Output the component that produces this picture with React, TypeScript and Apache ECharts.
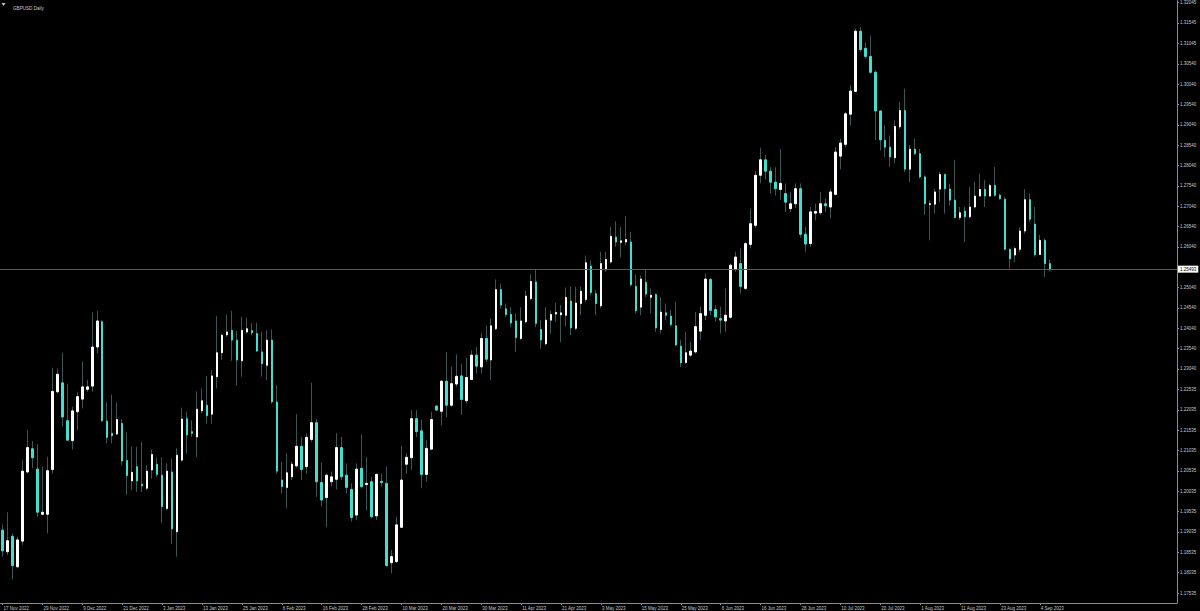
import React, { useEffect, useRef } from 'react';
import * as echarts from 'echarts';

const symbolTitle = 'GBPUSD,Daily';
const startDate = '2022-11-17';
const skippedDays = ['2022-12-26'];
const sundayBars = ['2023-03-12', '2023-03-19'];
const priceLabels = ['1.32045','1.31545','1.31045','1.30540','1.30040','1.29540','1.29040','1.28540','1.28040','1.27540','1.27040','1.26540','1.26040','1.25040','1.24540','1.24040','1.23540','1.23040','1.22535','1.22035','1.21535','1.21035','1.20535','1.20035','1.19535','1.19035','1.18535','1.18035','1.17535'];

const opens = [1.1908,1.1855,1.1893,1.1818,1.1881,1.2051,1.2108,1.2058,1.1947,1.1947,1.2057,1.2248,1.2270,1.2177,1.2128,1.2199,1.2230,1.2254,1.2262,1.2358,1.2420,1.2176,1.2146,1.2144,1.2170,1.2079,1.2029,1.2064,1.2021,1.2011,1.2056,1.2070,1.2043,1.1961,1.2051,1.1904,1.2080,1.2182,1.2150,1.2137,1.2201,1.2215,1.2193,1.2285,1.2344,1.2388,1.2399,1.2375,1.2324,1.2395,1.2398,1.2391,1.2346,1.2313,1.2375,1.2223,1.2031,1.2013,1.2039,1.2066,1.2114,1.2064,1.2131,1.2172,1.2025,1.1988,1.2027,1.2033,1.2111,1.2043,1.2008,1.1945,1.2060,1.2020,1.2027,1.1943,1.2028,1.2023,1.1828,1.1831,1.1915,1.2070,1.2086,1.2182,1.2152,1.2045,1.2107,1.2213,1.2200,1.2274,1.2215,1.2267,1.2287,1.2226,1.2278,1.2338,1.2309,1.2379,1.2326,1.2403,1.2499,1.2452,1.2438,1.2422,1.2379,1.2420,1.2477,1.2518,1.2401,1.2366,1.2424,1.2439,1.2437,1.2436,1.2471,1.2404,1.2465,1.2475,1.2557,1.2489,1.2459,1.2548,1.2567,1.2628,1.2615,1.2616,1.2616,1.2507,1.2456,1.2517,1.2480,1.2487,1.2401,1.2442,1.2434,1.2410,1.2360,1.2320,1.2338,1.2346,1.2397,1.2436,1.2524,1.2450,1.2428,1.2422,1.2431,1.2549,1.2563,1.2502,1.2610,1.2657,1.2780,1.2818,1.2790,1.2763,1.2745,1.2735,1.2698,1.2710,1.2747,1.2635,1.2612,1.2687,1.2688,1.2710,1.2702,1.2733,1.2827,1.2856,1.2930,1.2986,1.3134,1.3092,1.3072,1.3033,1.2938,1.2866,1.2849,1.2823,1.2899,1.2939,1.2795,1.2844,1.2833,1.2776,1.2708,1.2709,1.2746,1.2782,1.2746,1.2719,1.2676,1.2692,1.2678,1.2702,1.2729,1.2745,1.2729,1.2755,1.2731,1.2721,1.2598,1.2584,1.2598,1.2643,1.2720,1.2660,1.2585,1.2620,1.2563];
const closes = [1.1857,1.1882,1.1821,1.1884,1.2053,1.2111,1.2086,1.1952,1.1952,1.2054,1.2249,1.2291,1.2186,1.2129,1.2201,1.2236,1.2260,1.2260,1.2358,1.2422,1.2177,1.2136,1.2140,1.2180,1.2078,1.2042,1.2050,1.2029,1.2017,1.2053,1.2094,1.2045,1.1966,1.2053,1.1911,1.2092,1.2181,1.2142,1.2146,1.2205,1.2226,1.2189,1.2287,1.2344,1.2387,1.2395,1.2375,1.2326,1.2399,1.2403,1.2393,1.2348,1.2317,1.2375,1.2223,1.2053,1.2015,1.2049,1.2070,1.2114,1.2057,1.2136,1.2172,1.2027,1.1982,1.2043,1.2039,1.2111,1.2039,1.2013,1.1939,1.2058,1.2015,1.2023,1.1941,1.2045,1.2025,1.1821,1.1843,1.1921,1.2031,1.2087,1.2182,1.2150,1.2045,1.2109,1.2180,1.2203,1.2274,1.2215,1.2268,1.2286,1.2229,1.2283,1.2338,1.2311,1.2379,1.2328,1.2410,1.2499,1.2461,1.2438,1.2417,1.2381,1.2422,1.2483,1.2519,1.2416,1.2375,1.2424,1.2438,1.2443,1.2442,1.2480,1.2405,1.2466,1.2495,1.2565,1.2492,1.2465,1.2563,1.2573,1.2630,1.2616,1.2619,1.2622,1.2511,1.2447,1.2525,1.2488,1.2485,1.2405,1.2444,1.2436,1.2413,1.2363,1.2319,1.2344,1.2348,1.2408,1.2440,1.2525,1.2448,1.2432,1.2424,1.2436,1.2559,1.2579,1.2507,1.2612,1.2661,1.2780,1.2818,1.2790,1.2763,1.2747,1.2760,1.2714,1.2710,1.2747,1.2635,1.2611,1.2690,1.2691,1.2710,1.2705,1.2739,1.2837,1.2859,1.2931,1.2987,1.3134,1.3089,1.3072,1.3033,1.2938,1.2867,1.2849,1.2825,1.2900,1.2939,1.2795,1.2844,1.2833,1.2776,1.2710,1.2710,1.2739,1.2782,1.2747,1.2719,1.2676,1.2688,1.2678,1.2702,1.2729,1.2745,1.2729,1.2755,1.2731,1.2723,1.2598,1.2575,1.2600,1.2643,1.2720,1.2672,1.2585,1.2620,1.2563,1.25493];
const lows = [1.1843,1.1847,1.1787,1.1814,1.1872,1.2047,1.2060,1.1941,1.1945,1.1900,1.2047,1.2244,1.2162,1.2128,1.2106,1.2154,1.2207,1.2248,1.2248,1.2342,1.2174,1.2121,1.2121,1.2142,1.2068,1.1994,1.2006,1.2002,1.2002,1.2006,1.2034,1.2039,1.1925,1.1957,1.1874,1.1843,1.2076,1.2097,1.2137,1.2088,1.2195,1.2170,1.2170,1.2256,1.2326,1.2383,1.2324,1.2264,1.2285,1.2391,1.2387,1.2346,1.2285,1.2277,1.2219,1.2047,1.1998,1.1962,1.2031,1.2062,1.2031,1.2047,1.2125,1.1990,1.1966,1.1915,1.2015,1.2008,1.2031,1.1998,1.1929,1.1933,1.2011,1.1957,1.1937,1.1933,1.2015,1.1818,1.1802,1.1827,1.1913,1.2047,1.2056,1.2137,1.2011,1.2027,1.2105,1.2201,1.2166,1.2186,1.2211,1.2260,1.2191,1.2219,1.2277,1.2293,1.2293,1.2321,1.2277,1.2399,1.2452,1.2432,1.2407,1.2346,1.2375,1.2416,1.2473,1.2407,1.2354,1.2362,1.2391,1.2420,1.2370,1.2408,1.2387,1.2399,1.2436,1.2469,1.2485,1.2436,1.2453,1.2543,1.2563,1.2604,1.2579,1.2608,1.2507,1.2440,1.2436,1.2481,1.2440,1.2395,1.2391,1.2424,1.2408,1.2360,1.2309,1.2316,1.2334,1.2342,1.2375,1.2424,1.2436,1.2420,1.2391,1.2395,1.2428,1.2543,1.2489,1.2498,1.2600,1.2650,1.2760,1.2770,1.2735,1.2730,1.2720,1.2690,1.2690,1.2700,1.2627,1.2592,1.2604,1.2669,1.2682,1.2690,1.2674,1.2731,1.2795,1.2849,1.2903,1.2984,1.3083,1.3066,1.3029,1.2866,1.2841,1.2825,1.2800,1.2809,1.2894,1.2788,1.2763,1.2829,1.2772,1.2682,1.2620,1.2686,1.2714,1.2686,1.2706,1.2674,1.2670,1.2616,1.2674,1.2698,1.2727,1.2702,1.2727,1.2727,1.2719,1.2596,1.2551,1.2567,1.2592,1.2637,1.2665,1.2580,1.2584,1.2530,1.2543];
const highs = [1.1922,1.1952,1.1900,1.1892,1.2080,1.2154,1.2127,1.2119,1.2064,1.2088,1.2307,1.2305,1.2344,1.2268,1.2211,1.2248,1.2323,1.2277,1.2443,1.2446,1.2424,1.2222,1.2241,1.2222,1.2181,1.2148,1.2113,1.2113,1.2125,1.2068,1.2106,1.2087,1.2087,1.2072,1.2084,1.2109,1.2209,1.2199,1.2178,1.2249,1.2256,1.2287,1.2301,1.2434,1.2391,1.2438,1.2447,1.2398,1.2432,1.2430,1.2416,1.2418,1.2395,1.2399,1.2401,1.2264,1.2076,1.2097,1.2076,1.2193,1.2137,1.2146,1.2270,1.2182,1.2074,1.2047,1.2052,1.2147,1.2137,1.2072,1.2023,1.2072,1.2143,1.2088,1.2039,1.2047,1.2047,1.2064,1.1859,1.1941,1.2115,1.2097,1.2203,1.2203,1.2180,1.2129,1.2199,1.2215,1.2277,1.2346,1.2309,1.2340,1.2317,1.2332,1.2350,1.2358,1.2393,1.2411,1.2428,1.2524,1.2514,1.2465,1.2456,1.2440,1.2456,1.2496,1.2537,1.2547,1.2424,1.2456,1.2448,1.2466,1.2461,1.2504,1.2507,1.2506,1.2506,1.2583,1.2571,1.2498,1.2592,1.2592,1.2653,1.2667,1.2653,1.2679,1.2641,1.2536,1.2534,1.2547,1.2502,1.2490,1.2481,1.2465,1.2449,1.2469,1.2375,1.2395,1.2371,1.2444,1.2457,1.2538,1.2527,1.2461,1.2457,1.2502,1.2563,1.2592,1.2600,1.2616,1.2698,1.2790,1.2848,1.2830,1.2800,1.2800,1.2845,1.2760,1.2740,1.2760,1.2760,1.2653,1.2702,1.2710,1.2739,1.2723,1.2747,1.2849,1.2870,1.2935,1.3001,1.3140,1.3144,1.3107,1.3123,1.3038,1.2939,1.2903,1.2878,1.2915,1.2960,1.2993,1.2854,1.2870,1.2845,1.2780,1.2718,1.2747,1.2788,1.2784,1.2759,1.2818,1.2702,1.2702,1.2751,1.2764,1.2784,1.2768,1.2759,1.2800,1.2735,1.2727,1.2600,1.2604,1.2653,1.2746,1.2735,1.2702,1.2633,1.2624,1.2573];

const TOTAL_SLOTS = 236;
const LABEL_EVERY = 8;
const MONTHS = ['Jan','Feb','Mar','Apr','May','Jun','Jul','Aug','Sep','Oct','Nov','Dec'];

function buildDates(count: number): string[] {
  const out: string[] = [];
  const [y, m, d] = startDate.split('-').map(Number);
  let t = Date.UTC(y, m - 1, d);
  while (out.length < count) {
    const dt = new Date(t);
    const iso = dt.toISOString().slice(0, 10);
    const dow = dt.getUTCDay();
    const weekday = dow >= 1 && dow <= 5;
    if ((weekday && !skippedDays.includes(iso)) || sundayBars.includes(iso)) {
      out.push(`${dt.getUTCDate()} ${MONTHS[dt.getUTCMonth()]} ${dt.getUTCFullYear()}`);
    }
    t += 86400000;
  }
  return out;
}

export default function App() {
  const ref = useRef<HTMLDivElement>(null);
  useEffect(() => {
    if (!ref.current) return;
    const chart = echarts.init(ref.current, null, { renderer: 'svg' });
    const n = opens.length;
    const categories = buildDates(TOTAL_SLOTS);
    const full = opens.map((o, i) => [o, closes[i], lows[i], highs[i]]);
    const bodies = opens.map((o, i) => [o, closes[i], Math.min(o, closes[i]), Math.max(o, closes[i])]);
    const lastPrice = closes[n - 1];
    const tickVals = priceLabels.map(Number);
    const showIdx = (i: number) => i % LABEL_EVERY === 0 && i < n;
    const axisGrey = '#8a8a8a';
    const textGrey = '#c8c8c8';
    const wick = '#3b5656';
    const cyan = '#3fe0d0';
    chart.setOption({
      animation: false,
      backgroundColor: '#000000',
      title: {
        text: symbolTitle, left: 8, top: 1,
        textStyle: { color: textGrey, fontSize: 4.6, fontWeight: 'normal', fontFamily: 'Liberation Sans' },
      },
      graphic: [{ type: 'polygon', shape: { points: [[1.5, 3], [5.5, 3], [3.5, 6]] }, style: { fill: textGrey } }],
      grid: { left: -2.5, right: 23, top: 0, bottom: 8 },
      xAxis: {
        type: 'category', data: categories, boundaryGap: true,
        axisLine: { show: true, lineStyle: { color: axisGrey, width: 1 } },
        axisTick: { show: true, interval: (i: number) => showIdx(i), alignWithLabel: true, length: 2, lineStyle: { color: axisGrey } },
        axisLabel: { interval: (i: number) => showIdx(i), color: textGrey, fontSize: 4.5, fontFamily: 'Liberation Sans', align: 'left', margin: 2.5, padding: [0, 0, 0, 1] },
        splitLine: { show: false },
      },
      yAxis: {
        type: 'value', position: 'right', min: 1.17290, max: 1.32094,
        axisLine: { show: true, lineStyle: { color: axisGrey, width: 1 } },
        axisTick: { show: true, customValues: tickVals, length: 2, lineStyle: { color: axisGrey } },
        axisLabel: { customValues: tickVals, formatter: (v: number) => v.toFixed(5), color: textGrey, fontSize: 4.5, fontFamily: 'Liberation Sans', margin: 3 },
        splitLine: { show: false },
      },
      series: [
        {
          type: 'candlestick', data: full, barWidth: 1, z: 1,
          itemStyle: { color: wick, color0: wick, borderColor: wick, borderColor0: wick, borderWidth: 1 },
        },
        {
          type: 'candlestick', data: bodies, barWidth: 2, z: 2,
          itemStyle: { color: '#ffffff', color0: cyan, borderColor: '#ffffff', borderColor0: cyan, borderWidth: 1 },
          markLine: {
            silent: true, symbol: ['none', 'none'], animation: false, precision: 5,
            data: [{ yAxis: lastPrice }],
            lineStyle: { color: '#5a5a5a', type: 'solid', width: 1 },
            label: {
              show: true, position: 'end', formatter: lastPrice.toFixed(5), distance: 1,
              backgroundColor: '#ffffff', color: '#000000', fontSize: 4.5, fontFamily: 'Liberation Sans', padding: [1, 2, 1, 2],
            },
          },
        },
      ],
    });
    return () => chart.dispose();
  }, []);
  return <div ref={ref} style={{ position: 'fixed', left: 0, top: 0, width: 1200, height: 611 }} />;
}
